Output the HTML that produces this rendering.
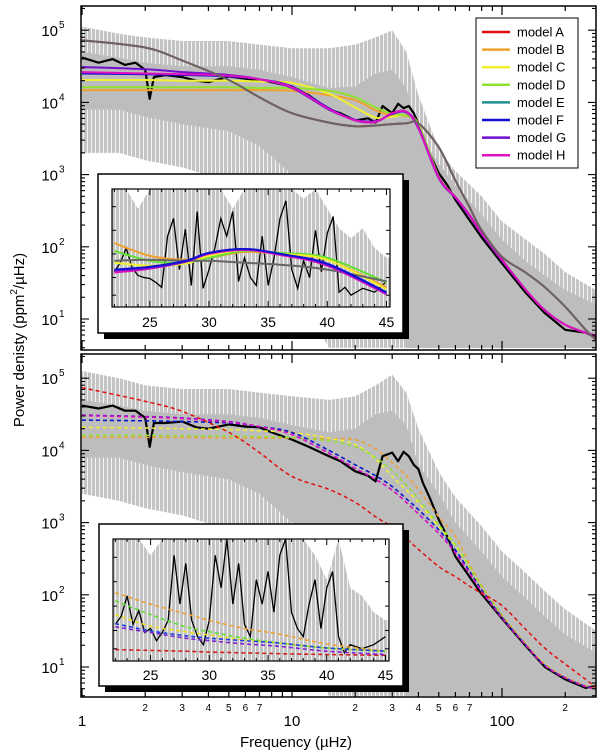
<!DOCTYPE html>
<html><head><meta charset="utf-8"><style>
html,body{margin:0;padding:0;background:#fff}
svg{display:block;font-family:"Liberation Sans",sans-serif}
</style></head><body>
<svg id="chart" width="600" height="753" viewBox="0 0 600 753" xmlns="http://www.w3.org/2000/svg"></svg>
<script>
// ---------- data ----------
const modelNames = ["model A","model B","model C","model D","model E","model F","model G","model H"];
const modelColors = ["#e01010","#f0a030","#f0f030","#90e030","#209090","#1010d0","#7010d0","#e010c0"];
const freqGrid = [1,2,3,5,7,10,15,20,25,30,35,40,50,60,70,80,100,130,160,200,250,280];
// top panel fits (log10 power)
const topA = [4.86,4.76,4.58,4.31,4.07,3.85,3.72,3.67,3.68,3.70,3.71,3.71,3.38,2.92,2.55,2.23,1.86,1.64,1.44,1.17,0.85,0.71];
const topB = [4.17,4.17,4.17,4.17,4.17,4.16,4.10,4.03,3.89,3.82,3.81,3.70,2.97,2.69,2.44,2.19,1.82,1.40,1.12,0.92,0.81,0.77];
const topC = [4.31,4.31,4.30,4.30,4.29,4.27,4.12,3.93,3.79,3.80,3.82,3.68,2.97,2.69,2.44,2.19,1.82,1.40,1.12,0.92,0.81,0.77];
const topD = [4.21,4.21,4.21,4.21,4.20,4.20,4.16,4.07,3.93,3.84,3.82,3.69,2.97,2.69,2.44,2.19,1.82,1.40,1.12,0.92,0.81,0.77];
const topE = [4.86,4.76,4.58,4.31,4.07,3.85,3.72,3.67,3.68,3.70,3.71,3.71,3.38,2.92,2.55,2.23,1.86,1.64,1.44,1.17,0.85,0.71];
const topF = [4.40,4.39,4.38,4.36,4.32,4.22,3.92,3.75,3.73,3.85,3.87,3.66,2.96,2.69,2.44,2.19,1.82,1.40,1.12,0.92,0.81,0.77];
const topG = [4.49,4.46,4.42,4.38,4.32,4.20,3.90,3.76,3.74,3.84,3.86,3.64,2.95,2.68,2.43,2.18,1.81,1.40,1.12,0.92,0.81,0.77];
const topH = [4.42,4.40,4.39,4.37,4.32,4.21,3.91,3.75,3.73,3.85,3.87,3.65,2.96,2.69,2.44,2.19,1.82,1.40,1.12,0.92,0.81,0.77];
// bottom panel fits
const botA = [4.87,4.68,4.54,4.25,3.97,3.64,3.46,3.28,3.08,2.94,2.78,2.63,2.39,2.25,2.12,2.02,1.85,1.52,1.26,1.04,0.83,0.72];
const botB = [4.18,4.18,4.18,4.17,4.17,4.17,4.16,4.15,4.02,3.83,3.65,3.46,3.08,2.81,2.43,2.13,1.72,1.32,1.04,0.86,0.74,0.70];
const botC = [4.32,4.31,4.30,4.29,4.27,4.25,4.17,4.08,3.88,3.64,3.45,3.28,2.94,2.68,2.38,2.10,1.70,1.30,1.02,0.85,0.73,0.70];
const botD = [4.21,4.21,4.20,4.20,4.19,4.18,4.13,4.05,3.90,3.72,3.52,3.33,2.97,2.70,2.39,2.11,1.71,1.31,1.03,0.85,0.73,0.70];
const botE = [4.42,4.41,4.40,4.38,4.33,4.25,4.00,3.80,3.65,3.50,3.33,3.18,2.90,2.62,2.33,2.07,1.69,1.30,1.02,0.85,0.73,0.70];
const botF = [4.42,4.41,4.40,4.38,4.33,4.25,4.00,3.80,3.65,3.50,3.33,3.18,2.90,2.62,2.33,2.07,1.69,1.30,1.02,0.85,0.73,0.70];
const botG = [4.49,4.47,4.45,4.40,4.33,4.22,3.96,3.75,3.60,3.45,3.28,3.12,2.85,2.58,2.30,2.05,1.68,1.30,1.02,0.85,0.73,0.70];
const botH = [4.48,4.46,4.44,4.39,4.33,4.22,3.96,3.75,3.60,3.45,3.28,3.12,2.85,2.58,2.30,2.05,1.68,1.30,1.02,0.85,0.73,0.70];
// smoothed spectrum (black)
const smoothFreq = [1,1.2,1.4,1.6,1.8,2,2.1,2.2,2.5,3,3.5,4,5,6,7,8,10,12,15,17,20,23,25,27,30,32,34,36,38,40,42,45,50,55,60,70,80,100,130,160,200,250,280];
const topSmooth = [4.62,4.55,4.60,4.52,4.55,4.45,4.05,4.35,4.38,4.35,4.30,4.28,4.36,4.33,4.30,4.28,4.22,4.10,3.90,3.85,3.75,3.78,3.72,3.95,3.85,3.98,3.92,3.95,3.85,3.70,3.55,3.30,3.02,2.85,2.65,2.37,2.13,1.77,1.36,1.08,0.85,0.81,0.75];
const botSmooth = [4.62,4.58,4.62,4.55,4.55,4.45,4.05,4.38,4.38,4.40,4.32,4.30,4.36,4.33,4.32,4.25,4.15,4.05,3.92,3.85,3.71,3.65,3.57,3.92,3.97,3.85,3.98,3.92,3.80,3.74,3.55,3.36,3.04,2.80,2.53,2.25,2.01,1.67,1.29,1.00,0.83,0.71,0.74];
// raw spectrum: outer envelope (sparse spikes) and dense core
const rawFreq = [1,1.5,2,3,5,7,10,15,20,25,30,35,40,50,60,80,100,130,160,200,280];
const topRawHi = [5.05,4.95,4.90,4.85,4.85,4.80,4.75,4.75,4.80,4.90,5.00,4.70,4.10,3.35,3.05,2.70,2.35,2.10,1.90,1.65,1.40];
const topRawLo = [3.30,3.30,3.20,3.10,2.90,2.60,1.50,0.60,0.60,0.60,0.60,0.60,0.60,0.60,0.60,0.60,0.60,0.60,0.60,0.60,0.60];
const topCoreHi = [4.70,4.62,4.55,4.50,4.50,4.45,4.35,4.20,4.22,4.40,4.45,4.20,3.60,3.15,2.85,2.45,2.10,1.80,1.60,1.40,1.20];
const topCoreLo = [3.90,3.90,3.80,3.70,3.60,3.40,3.00,2.40,2.00,1.60,1.20,0.60,0.60,0.60,0.60,0.60,0.60,0.60,0.60,0.60,0.60];
const botRawHi = [5.10,5.00,4.90,4.85,4.85,4.80,4.75,4.70,4.75,4.90,5.05,4.80,4.30,3.70,3.35,2.95,2.60,2.30,2.05,1.80,1.50];
const botRawLo = [3.40,3.30,3.20,3.10,2.90,2.60,1.50,0.60,0.60,0.60,0.60,0.60,0.60,0.60,0.60,0.60,0.60,0.60,0.60,0.60,0.60];
const botCoreHi = [4.70,4.62,4.55,4.50,4.50,4.45,4.35,4.25,4.30,4.50,4.55,4.35,3.80,3.40,3.00,2.60,2.25,1.95,1.70,1.45,1.20];
const botCoreLo = [3.90,3.90,3.80,3.70,3.60,3.40,3.00,2.40,2.00,1.60,1.20,0.60,0.60,0.60,0.60,0.60,0.60,0.60,0.60,0.60,0.60];
// insets (22-45 uHz)
const insetFreq = [22,25,28,30,33,36,40,45];
const insTopGrey = [3.77,3.78,3.77,3.77,3.75,3.73,3.68,3.56];
const insTopB = [3.95,3.82,3.78,3.80,3.86,3.84,3.78,3.50];
const insTopD = [3.87,3.77,3.75,3.80,3.87,3.85,3.80,3.55];
const insTopC = [3.75,3.72,3.74,3.82,3.88,3.84,3.78,3.48];
const insTopF = [3.68,3.71,3.77,3.85,3.89,3.84,3.74,3.45];
const insTopG = [3.67,3.70,3.76,3.85,3.89,3.84,3.73,3.44];
const insTopH = [3.65,3.69,3.76,3.84,3.88,3.83,3.72,3.43];
const insBotA = [3.14,3.13,3.12,3.11,3.10,3.09,3.08,3.07];
const insBotB = [3.84,3.70,3.58,3.50,3.40,3.33,3.21,3.12];
const insBotC = [3.57,3.43,3.36,3.32,3.26,3.22,3.16,3.12];
const insBotD = [3.74,3.57,3.42,3.36,3.28,3.22,3.16,3.12];
const insBotF = [3.46,3.37,3.31,3.28,3.25,3.22,3.16,3.12];
const insBotG = [3.42,3.35,3.28,3.25,3.21,3.18,3.12,3.08];
const insBlackFreq = [22,22.5,23,23.5,24,24.5,25,25.5,26,26.5,27,27.5,28,28.5,29,29.5,30,30.5,31,31.5,32,32.5,33,33.5,34,34.5,35,35.5,36,36.5,37,37.5,38,38.5,39,39.5,40,40.5,41,41.5,42,43,44,45];
const insTopBlack = [3.66,3.75,3.90,3.70,3.62,3.60,3.59,3.55,3.50,4.02,4.20,3.68,4.09,3.52,4.27,3.49,3.68,3.90,4.20,4.02,4.27,3.56,3.80,3.60,3.52,4.02,3.52,3.80,4.20,4.38,3.68,3.49,3.77,3.60,4.08,3.66,4.05,4.22,3.45,3.50,3.42,3.49,3.45,3.56];
const insBotBlack = [3.45,3.55,3.80,3.45,3.62,3.35,3.40,3.25,3.35,3.50,4.30,3.70,4.20,3.50,3.30,3.20,3.50,4.30,3.90,4.50,3.70,4.20,3.45,3.30,4.00,3.70,4.10,3.60,4.30,4.50,3.60,3.40,3.30,3.70,4.00,3.40,3.90,4.10,3.30,3.10,3.20,3.15,3.20,3.30];
const insGreyFreq = [22,23,24,25,26,27,28,29,30,31,32,33,34,35,36,37,38,39,40,41,42,43,44,45];
const insTopGreyHi = [4.5,4.5,4.3,4.5,4.5,4.5,4.5,4.5,4.5,4.5,4.3,4.5,4.5,4.5,4.5,4.5,4.4,4.5,4.3,4.1,4.0,4.1,3.9,3.8];
const insBotGreyHi = [4.5,4.5,4.5,4.3,4.5,4.5,4.5,4.5,4.5,4.5,4.5,4.5,4.5,4.5,4.5,4.5,4.5,4.3,4.0,4.5,3.9,3.8,3.6,3.5];
const xMajorLabels = ["1","10","100"];
const xMinorLabels = ["2","3","4","5","6","7"];
const yLabels = ["1","2","3","4","5"];

// ---------- scales ----------
const NS="http://www.w3.org/2000/svg";
const svg=document.getElementById('chart');
const X0=82, XD=210, XL=81, XR=596;
const xs=f=>X0+XD*Math.log10(f);
const panels=[{top:6,bot:350,y1:319},{top:354,bot:697,y1:667}];
const DEC=72.2;
function ys(p,lp){return p.y1-DEC*(lp-1);}
function el(tag,attrs,parent){const e=document.createElementNS(NS,tag);for(const k in attrs)e.setAttribute(k,attrs[k]);(parent||svg).appendChild(e);return e;}
function smoothPath(pts){let d=`M${pts[0][0].toFixed(1)},${pts[0][1].toFixed(1)}`;
 for(let i=0;i<pts.length-1;i++){const p0=pts[i-1]||pts[i],p1=pts[i],p2=pts[i+1],p3=pts[i+2]||p2;
  const c1=[p1[0]+(p2[0]-p0[0])/6,p1[1]+(p2[1]-p0[1])/6],c2=[p2[0]-(p3[0]-p1[0])/6,p2[1]-(p3[1]-p1[1])/6];
  d+=`C${c1[0].toFixed(1)},${c1[1].toFixed(1)} ${c2[0].toFixed(1)},${c2[1].toFixed(1)} ${p2[0].toFixed(1)},${p2[1].toFixed(1)}`;}
 return d;}
function poly(pts){return 'M'+pts.map(p=>p[0].toFixed(1)+','+p[1].toFixed(1)).join('L');}

const defs=el('defs',{});
const pat=el('pattern',{id:'stripes',width:4,height:6,patternUnits:'userSpaceOnUse'},defs);
el('rect',{x:0,y:0,width:3,height:6,fill:'#c4c4c4'},pat);
el('rect',{x:3,y:0,width:1,height:6,fill:'#f4f4f4'},pat);
panels.forEach((p,i)=>{const c=el('clipPath',{id:'clip'+i},defs);el('rect',{x:XL,y:p.top,width:XR-XL,height:p.bot-p.top},c);});

const topModels=[topA,topB,topC,topD,topE,topF,topG,topH];
const botModels=[botA,botB,botC,botD,botE,botF,botG,botH];

panels.forEach((p,pi)=>{
 const g=el('g',{'clip-path':`url(#clip${pi})`});
 
 
 const hi=pi?botRawHi:topRawHi, lo=pi?botRawLo:topRawLo;
 const up=rawFreq.map((f,i)=>[xs(f),ys(p,hi[i])]);
 const dn=rawFreq.map((f,i)=>[xs(f),ys(p,lo[i])]).reverse();
 const raw=el('path',{d:poly(up.concat(dn))+'Z',fill:'url(#stripes)'},g);
 
 
 const chi=pi?botCoreHi:topCoreHi, clo=pi?botCoreLo:topCoreLo;
 const cu=rawFreq.map((f,i)=>[xs(f),ys(p,chi[i])]);
 const cd=rawFreq.map((f,i)=>[xs(f),ys(p,clo[i])]).reverse();
 const core=el('path',{d:poly(cu.concat(cd))+'Z',fill:'#bdbdbd'},g);
 
 
 const sm=el('path',{d:poly(smoothFreq.map((f,i)=>[xs(f),ys(p,(pi?botSmooth:topSmooth)[i])])),fill:'none',stroke:'#000','stroke-width':2.2,'stroke-linejoin':'round'},g);
 
 
 const models=pi?botModels:topModels;
 const order=pi?[1,2,3,4,5,6,7,0]:[0,1,2,3,5,6,7,4];
 order.forEach(m=>{
  let col=modelColors[m];
  if(!pi&&m===4)col='#666';
  const path=el('path',{d:smoothPath(freqGrid.map((f,i)=>[xs(f),ys(p,models[m][i])])),fill:'none',stroke:col,'stroke-width':pi?1.5:2},g);
  if(pi)path.setAttribute('stroke-dasharray','4,3');
  
  
 });
 const fr=el('rect',{x:XL,y:p.top,width:XR-XL,height:p.bot-p.top,fill:'none',stroke:'#000','stroke-width':1.5});
 
 
 for(let d=1;d<=100;d*=10)for(let k=1;k<=9;k++){const f=d*k;if(f>280)break;const x=xs(f);const L=k===1?9:5;
  el('line',{x1:x,x2:x,y1:p.bot,y2:p.bot-L,stroke:'#000','stroke-width':1.2});
  el('line',{x1:x,x2:x,y1:p.top,y2:p.top+L,stroke:'#000','stroke-width':1.2});}
 for(let e=0;e<=5;e++)for(let k=1;k<=9;k++){const lp=e+Math.log10(k);const y=ys(p,lp);if(y<p.top||y>p.bot)continue;const L=k===1?8:4;
  el('line',{x1:XL,x2:XL+L,y1:y,y2:y,stroke:'#000','stroke-width':1.1});
  el('line',{x1:XR,x2:XR-L,y1:y,y2:y,stroke:'#000','stroke-width':1.1});}
 yLabels.forEach(lbl=>{const y=ys(p,+lbl);
  const t=el('text',{x:58,y:y+6,'font-size':15,'text-anchor':'end'});t.textContent='10';
  
  
  const s=el('text',{x:59,y:y-2,'font-size':10});s.textContent=lbl;});
});

// insets
const insets=[
 {ox:98,oy:174,ow:305,oh:159,ix:112,iy:189,iw:278,ih:118,lo:3.3,hi:4.5,lab:327},
 {ox:99,oy:524,ow:304,oh:162,ix:113,iy:539,iw:276,ih:122,lo:3.0,hi:4.5,lab:680}];
insets.forEach((s,si)=>{
 const ix=f=>s.ix+(f-21.8)*(s.iw/(45.3-21.8));
 const iy=v=>s.iy+s.ih-(v-s.lo)/(s.hi-s.lo)*s.ih;
 const grp=el('g',{});
 
 
 el('rect',{x:s.ox+6,y:s.oy+6,width:s.ow,height:s.oh,fill:'#000'},grp);
 el('rect',{x:s.ox,y:s.oy,width:s.ow,height:s.oh,fill:'#fff',stroke:'#000','stroke-width':1.5},grp);
 const c=el('clipPath',{id:'iclip'+si},defs);el('rect',{x:s.ix,y:s.iy,width:s.iw,height:s.ih},c);
 const g=el('g',{'clip-path':`url(#iclip${si})`},grp);
 const gh=si?insBotGreyHi:insTopGreyHi;
 const up=insGreyFreq.map((f,i)=>[ix(f),iy(gh[i])]);
 const gp=el('path',{d:poly([[ix(21),iy(gh[0])]].concat(up,[[ix(46),iy(gh[gh.length-1])],[ix(46),s.iy+s.ih+2],[ix(21),s.iy+s.ih+2]]))+'Z',fill:'url(#stripes)'},g);
 
 
 const bl=el('path',{d:poly(insBlackFreq.map((f,i)=>[ix(f),iy((si?insBotBlack:insTopBlack)[i])])),fill:'none',stroke:'#000','stroke-width':1.3},g);
 
 
 const series=si?[[insBotA,'#d02020'],[insBotB,'#f0a030'],[insBotD,'#60e030'],[insBotC,'#e8e020'],[insBotF,'#2040e0'],[insBotG,'#8020d0']]
   :[[insTopB,'#f0a030'],[insTopD,'#60e030'],[insTopC,'#f0f030'],[insTopGrey,'#666'],[insTopH,'#e010c0'],[insTopG,'#7010d0'],[insTopF,'#1010d0']];
 series.forEach(([arr,col])=>{
  const pth=el('path',{d:smoothPath(insetFreq.map((f,i)=>[ix(f),iy(arr[i])])),fill:'none',stroke:col,'stroke-width':si?1.6:2},g);
  if(si)pth.setAttribute('stroke-dasharray','4,3');
  
  
 });
 el('rect',{x:s.ix,y:s.iy,width:s.iw,height:s.ih,fill:'none',stroke:'#000','stroke-width':1.2},grp);
 for(let f=22;f<=45;f++){const x=ix(f);const L=f%5===0?6:3;
  el('line',{x1:x,x2:x,y1:s.iy+s.ih,y2:s.iy+s.ih-L,stroke:'#000'},grp);
  el('line',{x1:x,x2:x,y1:s.iy,y2:s.iy+L,stroke:'#000'},grp);
  if(f%5===0){const t=el('text',{x:x,y:s.lab,'font-size':14,'text-anchor':'middle'},grp);t.textContent=f;
   
   }}
 [0.15,0.35,0.55,0.75,0.9].forEach(fr=>{const y=s.iy+s.ih*fr;
  el('line',{x1:s.ix,x2:s.ix+4,y1:y,y2:y,stroke:'#000'},grp);
  el('line',{x1:s.ix+s.iw,x2:s.ix+s.iw-4,y1:y,y2:y,stroke:'#000'},grp);});
});

xMajorLabels.forEach(l=>{const t=el('text',{x:xs(+l),y:726,'font-size':15,'text-anchor':'middle'});t.textContent=l;
 
 });
[1,10].forEach(d=>xMinorLabels.forEach(l=>{const t=el('text',{x:xs(d*+l),y:711,'font-size':10,'text-anchor':'middle'});t.textContent=l;
 
 }));
{const t=el('text',{x:xs(200),y:711,'font-size':10,'text-anchor':'middle'});t.textContent='2';
 
 }

const xt=el('text',{x:xs(10)+4,y:747,'font-size':15,'text-anchor':'middle'});xt.textContent='Frequency (\u00b5Hz)';


const yt=el('text',{x:0,y:0,'font-size':15,'text-anchor':'middle',transform:'translate(24,340) rotate(-90)'});
yt.innerHTML='Power denisty  (ppm<tspan dy="-7" font-size="10">2</tspan><tspan dy="7">/\u00b5Hz)</tspan>';



const lg=el('g',{});


el('rect',{x:476,y:18,width:102,height:150,fill:'#fff',stroke:'#000','stroke-width':1},lg);
modelNames.forEach((n,i)=>{const y=32+i*17.6;
 const e=el('g',{},lg);
 
 
 el('line',{x1:482,x2:510,y1:y,y2:y,stroke:modelColors[i],'stroke-width':2.5},e);
 const t=el('text',{x:517,y:y+4.5,'font-size':13},e);t.textContent=n;});
</script>
</body></html>
